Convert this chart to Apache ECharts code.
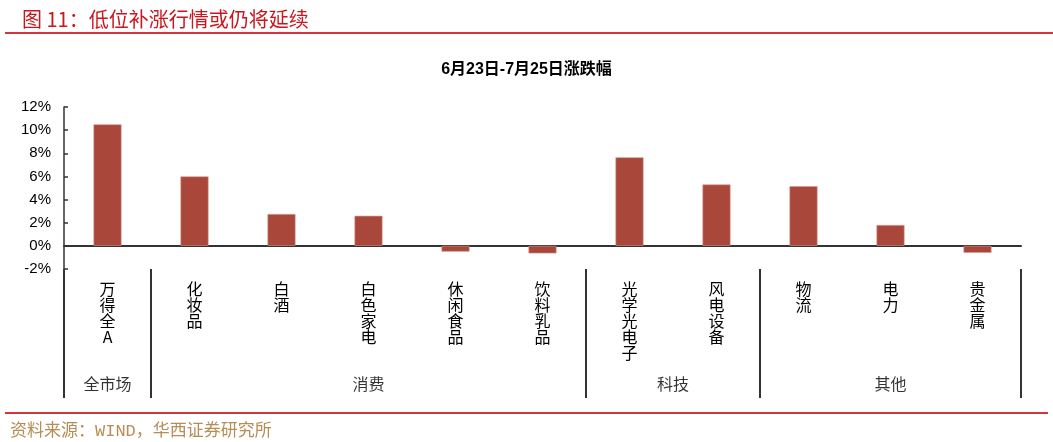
<!DOCTYPE html>
<html>
<head>
<meta charset="utf-8">
<script src="https://cdn.jsdelivr.net/npm/echarts@6/dist/echarts.min.js"></script>
<style>
html,body{margin:0;padding:0;background:#fff;}
#main{width:1053px;height:442px;}
</style>
</head>
<body>
<div id="main"></div>
<script>
// 数据
var categories = ['万得全A', '化妆品', '白酒', '白色家电', '休闲食品', '饮料乳品', '光学光电子', '风电设备', '物流', '电力', '贵金属'];
var changes = [10.5, 6.0, 2.75, 2.6, -0.5, -0.65, 7.65, 5.3, 5.15, 1.8, -0.6];
var groupNames = ['全市场', '消费', '科技', '其他'];
var groupSizes = [1, 5, 2, 3];
var yMin = -2, yMax = 12, yStep = 2;

// 分组边界和中心
var bounds = [0], centers = [];
for (var i = 0; i < groupSizes.length; i++) {
	var start = bounds[bounds.length - 1];
	centers.push([start + groupSizes[i] / 2, 0.11]);
	bounds.push(start + groupSizes[i]);
}

var cjk = 'Noto Sans CJK SC';
var dom = document.getElementById('main');
var chart = echarts.init(dom);
var option = {
	animation : false,
	title : [
		{
			text : '图 11：低位补涨行情或仍将延续',
			left : 17, top : 4,
			textStyle : { color : '#c8171e', fontSize : 20, fontWeight : 'normal', fontFamily : cjk }
		},
		{
			text : '6月23日-7月25日涨跌幅',
			left : 'center', top : 57,
			textStyle : { color : '#000', fontSize : 16, fontWeight : 'bold', fontFamily : 'Liberation Sans, ' + cjk }
		},
		{
			text : '资料来源：WIND，华西证券研究所',
			left : 5, top : 418,
			textStyle : { color : '#b58d55', fontSize : 17, fontWeight : 'normal', fontFamily : 'Liberation Mono, ' + cjk }
		}
	],
	graphic : [
		{ type : 'line', shape : { x1 : 5, y1 : 33, x2 : 1053, y2 : 33 }, style : { stroke : '#d2363a', lineWidth : 2 } },
		{ type : 'line', shape : { x1 : 5, y1 : 413, x2 : 1048, y2 : 413 }, style : { stroke : '#d2363a', lineWidth : 2 } }
	],
	grid : [
		{ left : 64, right : 32, top : 107, height : 162 },
		{ left : 64, right : 32, top : 269, height : 129 }
	],
	xAxis : [
		{
			type : 'category', gridIndex : 0, data : categories,
			axisLine : { onZero : true, lineStyle : { color : '#333', width : 2 } },
			axisTick : { show : false },
			axisLabel : { show : false }
		},
		{
			type : 'category', gridIndex : 0, data : categories, position : 'bottom',
			axisLine : { show : false, onZero : false },
			axisTick : { show : false },
			axisLabel : {
				margin : 12, color : '#000', fontSize : 16, lineHeight : 16, fontFamily : cjk,
				interval : 0,
				formatter : function(v) { return v.split('').join('\n'); }
			}
		},
		{
			type : 'value', gridIndex : 1, min : 0, max : categories.length,
			show : false
		}
	],
	yAxis : [
		{
			type : 'value', gridIndex : 0, min : yMin, max : yMax, interval : yStep,
			axisLine : { show : true, lineStyle : { color : '#333', width : 1.5 } },
			axisTick : { show : true, inside : true, length : 4, lineStyle : { color : '#333', width : 1.5 } },
			axisLabel : { color : '#000', fontSize : 15, margin : 13, fontFamily : 'Liberation Sans', formatter : '{value}%' },
			splitLine : { show : false }
		},
		{ type : 'value', gridIndex : 1, min : 0, max : 1, show : false }
	],
	series : [
		{
			name : '涨跌幅',
			type : 'bar',
			xAxisIndex : 0, yAxisIndex : 0,
			barWidth : 28,
			data : changes,
			itemStyle : { color : '#a9473a', borderColor : '#d4978e', borderWidth : 0.6 }
		},
		{
			name : '分组',
			type : 'scatter',
			xAxisIndex : 2, yAxisIndex : 1,
			symbolSize : 0,
			data : centers,
			label : {
				show : true, position : 'inside', color : '#000', fontSize : 16, fontFamily : cjk,
				formatter : function(p) { return groupNames[p.dataIndex]; }
			},
			markLine : {
				silent : true,
				symbol : [ 'none', 'none' ],
				label : { show : false },
				lineStyle : { type : 'solid', color : '#333', width : 2 },
				data : bounds.map(function(b) { return { xAxis : b }; })
			}
		}
	]
};
chart.setOption(option);
</script>
</body>
</html>
